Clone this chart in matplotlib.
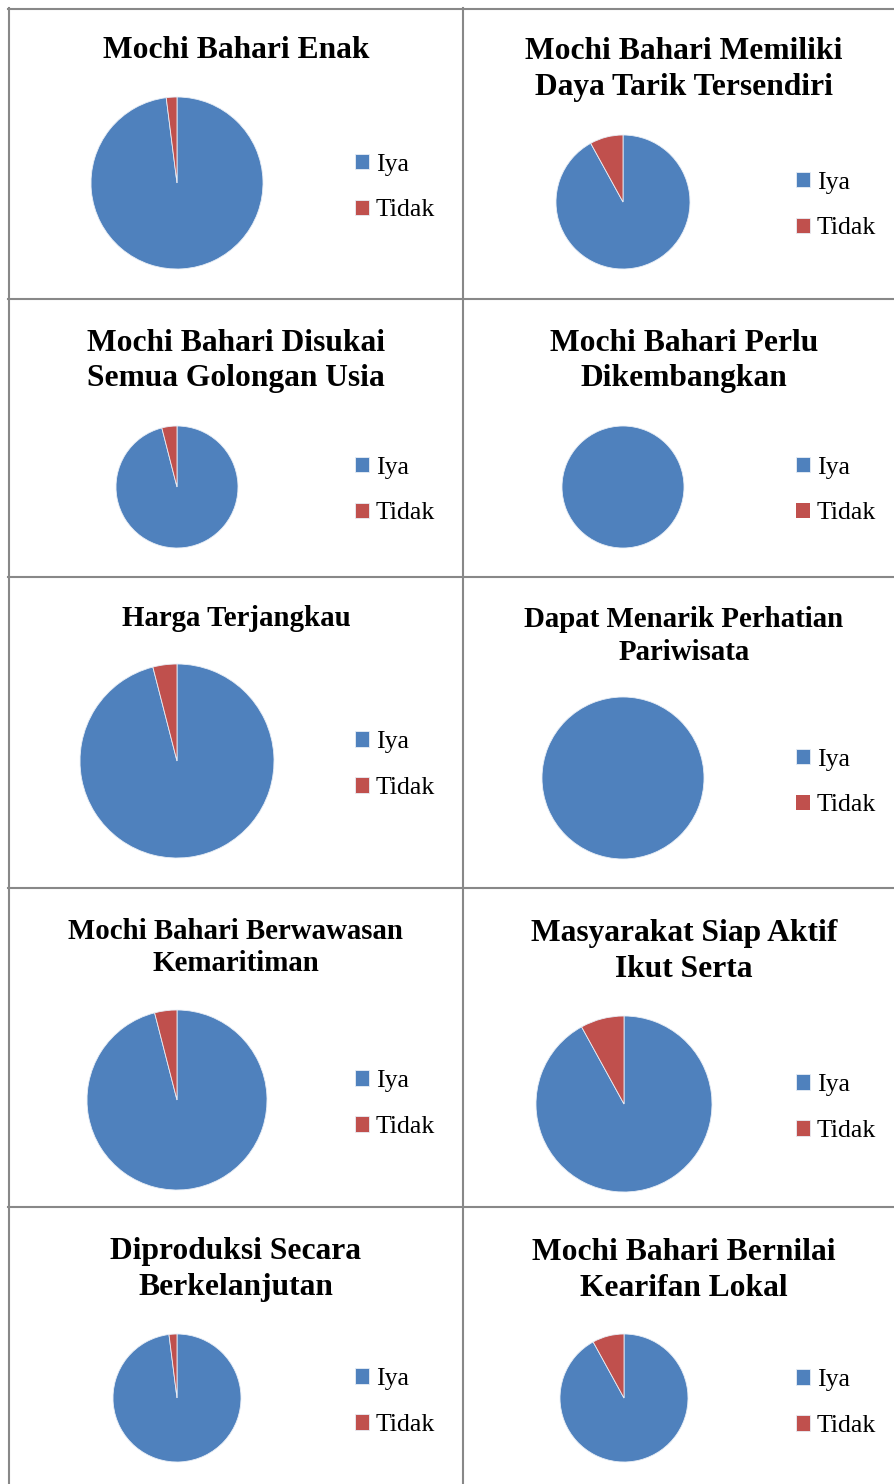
import matplotlib
matplotlib.use("Agg")
import matplotlib.pyplot as plt
from matplotlib.lines import Line2D

W, H = 894, 1484
DPI = 100

titles = [
    "Mochi Bahari Enak",
    "Mochi Bahari Memiliki\nDaya Tarik Tersendiri",
    "Mochi Bahari Disukai\nSemua Golongan Usia",
    "Mochi Bahari Perlu\nDikembangkan",
    "Harga Terjangkau",
    "Dapat Menarik Perhatian\nPariwisata",
    "Mochi Bahari Berwawasan\nKemaritiman",
    "Masyarakat Siap Aktif\nIkut Serta",
    "Diproduksi Secara\nBerkelanjutan",
    "Mochi Bahari Bernilai\nKearifan Lokal",
]
labels = ["Iya", "Tidak"]
iya = [49, 46, 48, 50, 48, 50, 48, 46, 49, 46]
tidak = [1, 4, 2, 0, 2, 0, 2, 4, 1, 4]
colors = ["#4F81BD", "#C0504D"]

# layout (pixels)
pie_center = [(177, 183), (623, 202), (177, 487), (623, 487), (177, 761),
              (623, 778), (177, 1100), (624, 1104), (177, 1398), (624, 1398)]
pie_radius = [86, 67, 61, 61, 97, 81, 90, 88, 64, 64]
title_y = [51, 69.5, 361, 361, 619, 636, 947.5, 951.5, 1269.5, 1270.5]
title_size = [22.7, 22.7, 22.7, 22.7, 20.8, 20.8, 20.8, 22.7, 22.7, 22.7]
legend_y = [187.5, 205.5, 490.5, 490.5, 765, 782.5, 1104, 1108, 1402, 1403]

fig = plt.figure(figsize=(W / DPI, H / DPI), dpi=DPI)
fig.patch.set_facecolor("white")

def fx(x):
    return x / W

def fy(y):
    return 1 - y / H

for i in range(10):
    col = i % 2
    cx, cy = pie_center[i]
    r = pie_radius[i]
    ax = fig.add_axes([fx(cx - r), fy(cy + r), 2 * r / W, 2 * r / H])
    vals = [iya[i], tidak[i]]
    wedges, _ = ax.pie(vals, colors=colors, startangle=90, counterclock=False,
                       radius=1, wedgeprops=dict(edgecolor="#E8EEF6", linewidth=0.6))
    for w, v in zip(wedges, vals):
        if v == 0:
            w.set_linewidth(0)
    ax.set_xlim(-1.0, 1.0)
    ax.set_ylim(-1.0, 1.0)
    ax.set_aspect("equal")
    ax.axis("off")

    tx = 236 if col == 0 else 684
    fig.text(fx(tx), fy(title_y[i]), titles[i], ha="center", va="center",
             fontsize=title_size[i], fontweight="bold", family="Liberation Serif",
             linespacing=1.28)

    lx = 355 if col == 0 else 796
    fig.legend(wedges, labels, loc="center left",
               bbox_to_anchor=(fx(lx), fy(legend_y[i])),
               frameon=False, prop={"family": "Liberation Serif", "size": 18.5},
               handlelength=0.55, handleheight=0.55, handletextpad=0.25,
               labelspacing=0.93, borderpad=0, borderaxespad=0)

# table grid lines
gc = "#888888"
lw = 1.5
xs = [9, 463]
ys = [9, 299, 577, 888, 1207]
for x in xs:
    fig.add_artist(Line2D([fx(x), fx(x)], [fy(8), fy(1484)], color=gc, lw=lw))
for y in ys:
    fig.add_artist(Line2D([fx(8), fx(894)], [fy(y), fy(y)], color=gc, lw=lw))

fig.savefig("out.png", dpi=DPI, facecolor="white")
